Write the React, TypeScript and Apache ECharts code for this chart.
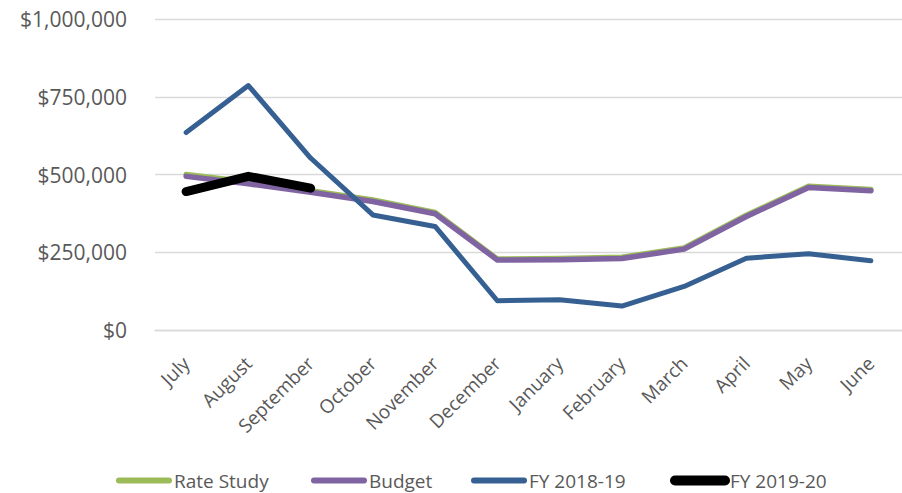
import React, { useEffect, useRef } from "react";
import * as echarts from "echarts";

const months = ["July", "August", "September", "October", "November", "December", "January", "February", "March", "April", "May", "June"];
const rateStudy = [500000, 476000, 448000, 418000, 378000, 228000, 230000, 234000, 264000, 369000, 462000, 452000];
const budget = [494000, 470000, 443000, 413000, 374000, 225000, 226000, 230000, 260000, 365000, 458000, 448000];
const fy1819 = [635000, 786000, 553000, 370000, 333000, 94000, 97000, 77000, 140000, 231000, 245000, 223000];
const fy1920 = [445000, 494000, 456000];
const yTicks = { min: 0, max: 1000000, interval: 250000 };
const seriesNames = ["Rate Study", "Budget", "FY 2018-19", "FY 2019-20"];

const FONT = "Open Sans";
const TEXT = "#595959";

export default function App() {
  const ref = useRef<HTMLDivElement>(null);
  useEffect(() => {
    if (!ref.current) return;
    const chart = echarts.init(ref.current, null, { renderer: "svg" });
    const mk = (name: string, data: number[], color: string, width: number) => ({
      name,
      type: "line",
      data,
      symbol: "none",
      color,
      lineStyle: { color, width, cap: "round", join: "round" },
    });
    const legendLefts = [116, 311, 471, 670];
    const legends = seriesNames.map((n, i) => ({
      left: legendLefts[i],
      top: 471,
      padding: 0,
      itemWidth: 50,
      itemHeight: 14,
      textStyle: { fontFamily: FONT, fontSize: 19, color: TEXT },
      data: [
        {
          name: n,
          itemStyle: { opacity: 0 },
          lineStyle: { width: i === 3 ? 10 : 6, cap: "round" },
        },
      ],
    }));
    chart.setOption({
      animation: false,
      grid: { left: 155, top: 19, width: 757, height: 311, containLabel: false },
      legend: legends,
      xAxis: {
        type: "category",
        data: months,
        boundaryGap: true,
        axisLine: { show: true, lineStyle: { color: "#D9D9D9", width: 1.3 } },
        axisTick: { show: false },
        axisLabel: { rotate: 45, margin: 30, interval: 0, fontFamily: FONT, fontSize: 19, color: TEXT },
      },
      yAxis: {
        type: "value",
        min: yTicks.min,
        max: yTicks.max,
        interval: yTicks.interval,
        axisLine: { show: false },
        axisTick: { show: false },
        splitLine: { lineStyle: { color: "#D9D9D9", width: 1.3 } },
        axisLabel: {
          margin: 28,
          fontFamily: FONT,
          fontSize: 21,
          color: TEXT,
          formatter: (v: number) => "$" + v.toLocaleString("en-US"),
        },
      },
      series: [
        mk(seriesNames[0], rateStudy, "#9BBB59", 5.5),
        mk(seriesNames[1], budget, "#8064A2", 5.5),
        mk(seriesNames[2], fy1819, "#376092", 5),
        mk(seriesNames[3], fy1920, "#000000", 9),
      ],
    });
    return () => chart.dispose();
  }, []);
  return <div ref={ref} style={{ position: "absolute", left: 0, top: 0, width: 902, height: 493 }} />;
}
